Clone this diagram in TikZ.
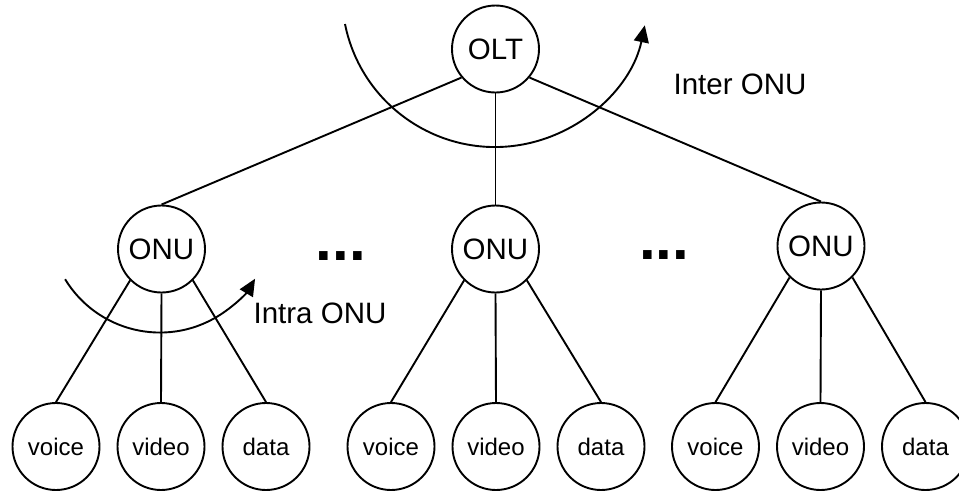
\documentclass[tikz,border=0pt]{standalone}
\usepackage{fontspec}
\setmainfont{Liberation Sans}
\usetikzlibrary{arrows.meta}
\tikzset{
  unit/.style={circle, draw, line width=1.9pt, minimum size=87pt, inner sep=0pt, font=\fontsize{29.5}{30}\selectfont},
  service/.style={unit, font=\fontsize{24}{26}\selectfont},
  link/.style={line width=1.9pt},
  turn arrow/.style={line width=1.9pt, -{Triangle[length=17pt,width=15pt]}},
  caption/.style={font=\fontsize{29.5}{30}\selectfont, inner sep=0pt},
  gap dots/.style={font=\fontsize{60}{60}\selectfont\bfseries, inner sep=0pt, anchor=base}
}

\begin{document}
\begin{tikzpicture}[x=1pt, y=-1pt]
    \useasboundingbox (0,0) rectangle (959,491);

    % OLT and ONUs
    \node[unit] (olt) at (495.5,49) {OLT};
    \node[unit] (onu1) at (161.5,249) {ONU};
    \node[unit] (onu2) at (495.5,249) {ONU};
    \node[unit] (onu3) at (821,246) {ONU};

    \draw[link] (olt.220) -- (onu1.north);
    \draw[link] (olt.south) -- (onu2.north);
    \draw[link] (olt.320) -- (onu3.north);

    % Services under each ONU
    \foreach \i/\x in {1/56, 2/391, 3/715.5} {
            \node[service] (voice\i) at (\x,446.5) {voice};
            \node[service] (video\i) at (\x+105,446.5) {video};
            \node[service] (data\i) at (\x+210,446.5) {data};
            \draw[link] (onu\i.south west) -- (voice\i.north);
            \draw[link] (onu\i.south) -- (video\i.north);
            \draw[link] (onu\i.south east) -- (data\i.north);
        }

    % Gaps between ONUs
    \node[gap dots] (gap1) at (341,260) {...};
    \node[gap dots] (gap2) at (664,259.5) {...};

    % Scheduling arrows
    \coordinate (inter start) at (345,24);
    \draw[turn arrow] (inter start) arc[start angle=168.7, end angle=11.8, radius=153];
    \node[caption] (inter) at (740,84.5) {Inter ONU};

    \coordinate (intra start) at (65.1,279.2);
    \draw[turn arrow] (intra start) arc[start angle=148.7, end angle=31, radius=111];
    \node[caption] (intra) at (320,313.7) {Intra ONU};
\end{tikzpicture}
\end{document}
